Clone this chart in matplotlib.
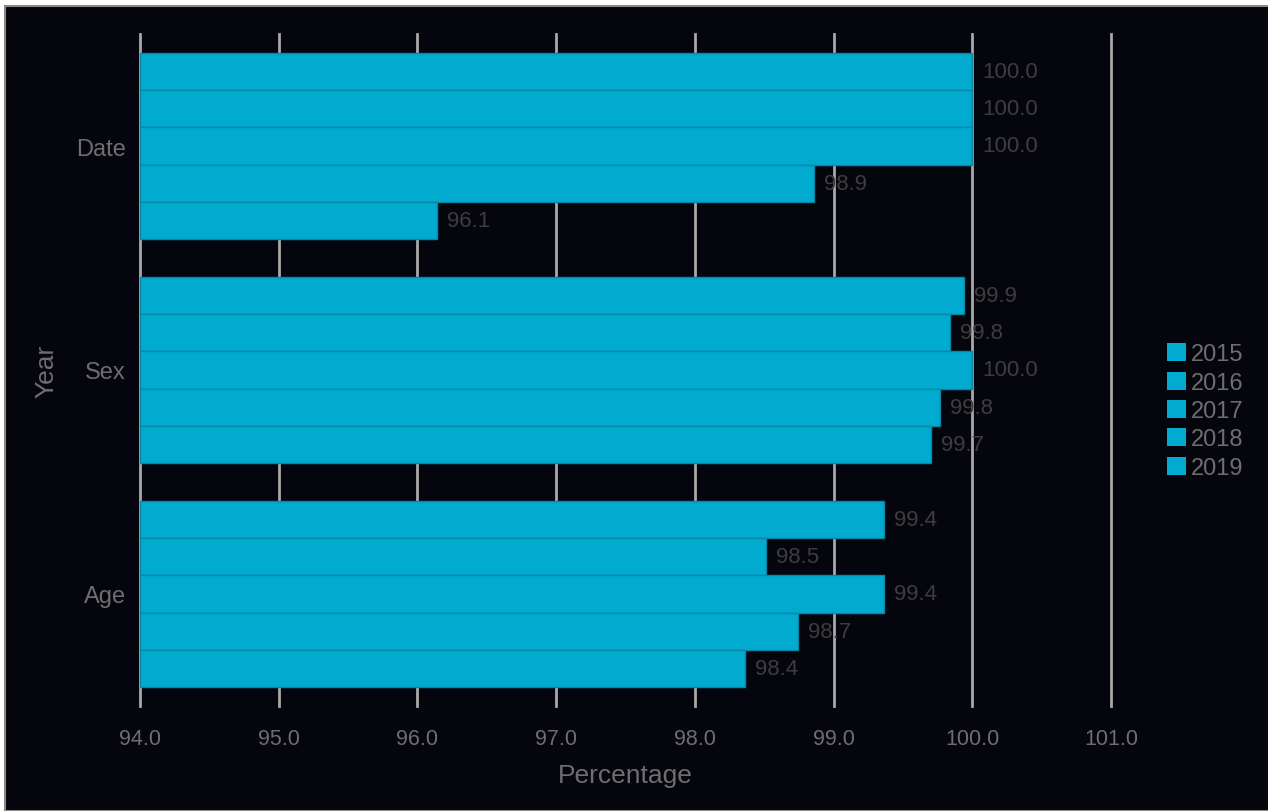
import matplotlib.pyplot as plt
from matplotlib.patches import Rectangle, Patch
import numpy as np

plt.rcParams['font.family'] = ['Liberation Sans', 'DejaVu Sans']

categories = ["Date", "Sex", "Age"]
years = ["2015", "2016", "2017", "2018", "2019"]
# rows = category, cols = year
values = np.array([
    [100.0, 100.0, 100.0, 98.86, 96.14],
    [99.94, 99.84, 100.0, 99.77, 99.70],
    [99.36, 98.51, 99.36, 98.74, 98.36],
])
xticks = [94.0, 95.0, 96.0, 97.0, 98.0, 99.0, 100.0, 101.0]

bar_color = '#00abcf'
bg = '#05050e'

fig = plt.figure(figsize=(12.68, 8.12), dpi=100, facecolor='white')
fig.patches.append(Rectangle((5 / 1268, 0), 1.0, 1 - 7 / 812, transform=fig.transFigure,
                             facecolor=bg, edgecolor='#8a8a8a', linewidth=1.5, zorder=-10))

ax = fig.add_axes([140 / 1268, 1 - 707 / 812, (1111 - 140) / 1268, (707 - 35) / 812])
ax.set_facecolor(bg)

n = len(years)
h = 0.8333 / n
y = np.arange(len(categories))
for j, yr in enumerate(years):
    pos = y + (j - (n - 1) / 2) * h
    ax.barh(pos, values[:, j] - 94.0, left=94.0, height=h, color=bar_color,
            edgecolor='#0a86a3', linewidth=1.0, zorder=2)
    for p, v in zip(pos, values[:, j]):
        ax.annotate(f"{v:.1f}", xy=(v, p), xytext=(10, 0), textcoords='offset pixels',
                    va='center', ha='left', fontsize=16, color='#3d3d3d', zorder=1)

ax.set_xlim(94.0, 101.0)
ax.set_ylim(2.5, -0.5)
ax.set_xticks(xticks)
ax.set_xticklabels([f"{t:.1f}" for t in xticks])
ax.set_yticks(y)
ax.set_yticklabels(categories)
ax.grid(axis='x', color='#a8a8a8', linewidth=2, zorder=0)
for gl in ax.get_xgridlines():
    gl.set_clip_on(False)
ax.set_axisbelow(True)
for s in ax.spines.values():
    s.set_visible(False)
ax.tick_params(axis='x', length=0, pad=16, labelsize=15.5, labelcolor='#6e6e6e')
ax.tick_params(axis='y', length=0, pad=10, labelsize=17, labelcolor='#6e6e6e')

ax.set_xlabel("Percentage", fontsize=19, color='#6e6e6e', labelpad=10)
ax.set_ylabel("Year", fontsize=19, color='#6e6e6e', labelpad=13)

handles = [Patch(facecolor=bar_color, edgecolor='none') for _ in years]
fig.legend(handles, years, loc='center left', bbox_to_anchor=(1155 / 1268, 1 - 412 / 812),
           frameon=False, fontsize=17, labelcolor='#6e6e6e', handlelength=0.8,
           handleheight=0.8, handletextpad=0.2, labelspacing=0.26, borderpad=0)

fig.savefig("out.png", dpi=100, facecolor=fig.get_facecolor())
